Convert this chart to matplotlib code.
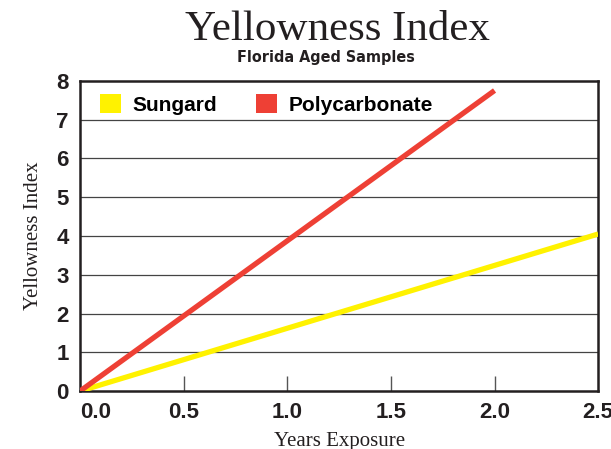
import matplotlib.pyplot as plt
from matplotlib.patches import Patch

# Dados
anos = [0.0, 2.5]
sungard = [0.0, 4.05]
anos_pc = [0.0, 2.0]
polycarbonate = [0.0, 7.75]

x_ticks = [0.0, 0.5, 1.0, 1.5, 2.0, 2.5]
y_ticks = [0, 1, 2, 3, 4, 5, 6, 7, 8]

amarelo = '#FFF200'
vermelho = '#EE4035'

fig = plt.figure(figsize=(6.11, 4.49), dpi=100)
ax = fig.add_axes([0.131, 0.129, 0.848, 0.691])

for y in y_ticks[1:-1]:
    ax.axhline(y, color='#444444', lw=0.9, zorder=1)

ax.plot(anos, sungard, color=amarelo, lw=3.8, solid_capstyle='butt', zorder=3)
ax.plot(anos_pc, polycarbonate, color=vermelho, lw=3.8, solid_capstyle='butt', zorder=3)

ax.set_xlim(0, 2.5)
ax.set_ylim(0, 8)
ax.set_xticks(x_ticks)
ax.set_xticklabels(['%.1f' % v for v in x_ticks])
ax.set_yticks(y_ticks)
ax.tick_params(axis='x', direction='in', length=11, width=1, color='#555555',
               pad=8, labelsize=16)
ax.tick_params(axis='y', length=0, pad=8, labelsize=16)
for lab in ax.get_xticklabels() + ax.get_yticklabels():
    lab.set_fontfamily('Liberation Sans')
    lab.set_fontweight('bold')
    lab.set_color('#231f20')
ax.get_xticklabels()[0].set_horizontalalignment('left')
ax.xaxis.get_major_ticks()[0].tick1line.set_visible(False)
ax.xaxis.get_major_ticks()[-1].tick1line.set_visible(False)

for s in ax.spines.values():
    s.set_linewidth(1.8)
    s.set_color('#231f20')

ax.set_xlabel('Years Exposure', family='Liberation Serif', fontsize=15, color='#231f20', labelpad=6)
ax.set_ylabel('Yellowness Index', family='Liberation Serif', fontsize=15, color='#231f20', labelpad=10)

handles = [Patch(facecolor=amarelo, label='Sungard'),
           Patch(facecolor=vermelho, label='Polycarbonate')]
leg = ax.legend(handles=handles, loc='upper left', ncol=2, frameon=False,
                handlelength=1.0, handleheight=1.0, handletextpad=0.55,
                columnspacing=1.9, borderaxespad=0.25,
                bbox_to_anchor=(0.012, 1.0),
                prop={'family': 'Liberation Sans', 'weight': 'bold', 'size': 15})

fig.text(0.552, 0.911, 'Yellowness Index', ha='center', va='baseline',
         family='Liberation Serif', fontsize=31, color='#231f20')
fig.text(0.534, 0.863, 'Florida Aged Samples', ha='center', va='baseline',
         family='DejaVu Sans', fontstretch='condensed', fontweight='heavy',
         fontsize=11.5, color='#231f20')

fig.savefig('out.png', dpi=100)
